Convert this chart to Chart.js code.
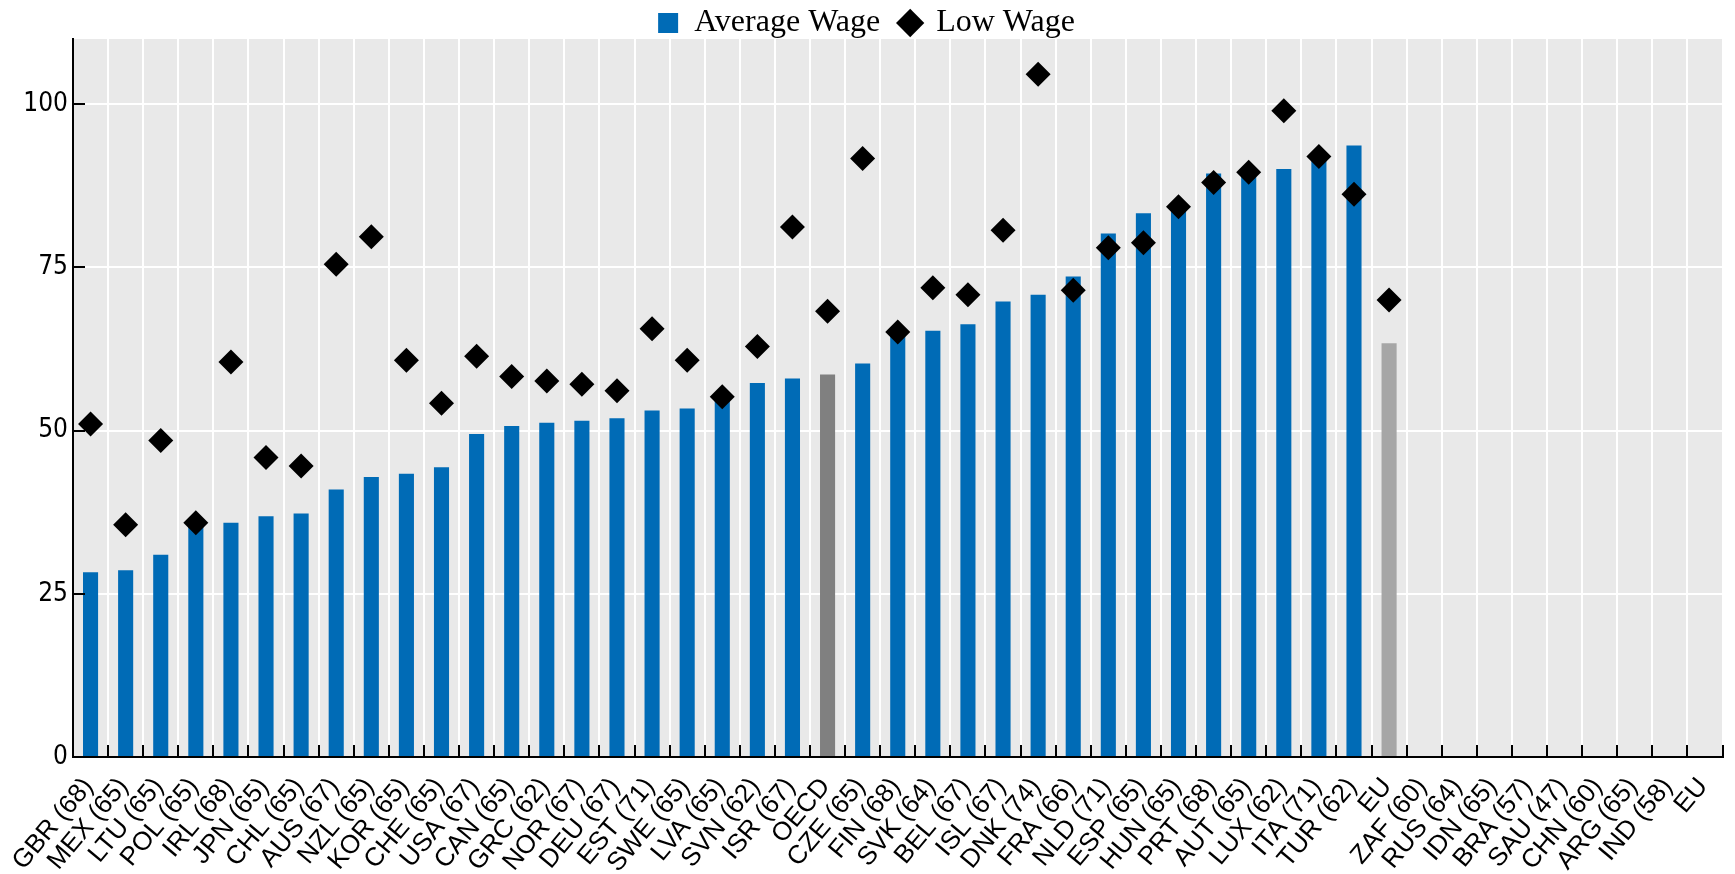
<!DOCTYPE html>
<html>
<head>
<meta charset="utf-8">
<script src="https://cdn.jsdelivr.net/npm/chart.js@4"></script>
<style>
html,body{margin:0;padding:0;background:#fff;}
#wrap{width:1735px;height:874px;}
</style>
</head>
<body>
<div id="wrap"><canvas id="c" width="1735" height="874"></canvas></div>
<script>
const categories = ["GBR (68)","MEX (65)","LTU (65)","POL (65)","IRL (68)","JPN (65)","CHL (65)","AUS (67)","NZL (65)","KOR (65)","CHE (65)","USA (67)","CAN (65)","GRC (62)","NOR (67)","DEU (67)","EST (71)","SWE (65)","LVA (65)","SVN (62)","ISR (67)","OECD","CZE (65)","FIN (68)","SVK (64)","BEL (67)","ISL (67)","DNK (74)","FRA (66)","NLD (71)","ESP (65)","HUN (65)","PRT (68)","AUT (65)","LUX (62)","ITA (71)","TUR (62)","EU","ZAF (60)","RUS (64)","IDN (65)","BRA (57)","SAU (47)","CHN (60)","ARG (65)","IND (58)","EU"];

const averageWage = [28.3,28.6,31.0,35.5,35.9,36.9,37.3,41.0,42.9,43.4,44.4,49.5,50.7,51.2,51.5,51.9,53.1,53.4,55.0,57.3,58.0,58.6,60.3,64.8,65.3,66.3,69.8,70.8,73.6,80.2,83.3,84.0,89.4,89.8,90.1,91.5,93.7,63.4,null,null,null,null,null,null,null,null,null];

const lowWage = [51.0,35.6,48.5,35.9,60.5,45.9,44.6,75.5,79.7,60.8,54.2,61.4,58.3,57.6,57.1,56.1,65.6,60.8,55.2,62.9,81.2,68.3,91.7,65.1,71.9,70.8,80.7,104.6,71.5,78.0,78.8,84.3,88.0,89.6,99.0,92.0,86.2,70.0,null,null,null,null,null,null,null,null,null];

const yTicks = [0,25,50,75,100];

const BLUE = "#006BB6";
const OECD_GREY = "#808080";
const EU_GREY = "#A6A6A6";
const barColors = categories.map((c,i) => c === "OECD" ? OECD_GREY : (c === "EU" && i < 40 ? EU_GREY : BLUE));

const bgPlugin = {
  id: 'bg',
  beforeLayout(chart){
    const lg = chart.legend;
    if (lg && !lg._trimmed) {
      const f = lg.fit;
      lg.fit = function(){ f.call(this); this.height = 52; };
      lg._trimmed = true;
    }
  },
  beforeDraw(chart){
    const {ctx, chartArea:a} = chart;
    ctx.save();
    ctx.fillStyle = '#E9E9E9';
    ctx.fillRect(a.left, a.top, a.right - a.left, a.bottom - a.top);
    ctx.restore();
  },
  afterDraw(chart){
    const {ctx, chartArea:a} = chart;
    const xs = chart.scales.x, ys = chart.scales.y;
    ctx.save();
    ctx.strokeStyle = '#000';
    ctx.lineWidth = 2;
    ctx.beginPath();
    yTicks.forEach(v => {
      const y = Math.round(ys.getPixelForValue(v));
      ctx.moveTo(a.left, y); ctx.lineTo(a.left + 12, y);
    });
    const n = categories.length;
    for (let i = 1; i <= n; i++) {
      const x = Math.round(i < n ? (xs.getPixelForValue(i-1) + xs.getPixelForValue(i)) / 2 : a.right);
      ctx.moveTo(x, a.bottom); ctx.lineTo(x, a.bottom - 12);
    }
    ctx.stroke();
    ctx.restore();
  }
};

new Chart(document.getElementById('c'), {
  type: 'bar',
  data: {
    labels: categories,
    datasets: [
      {
        label: 'Average Wage',
        data: averageWage,
        backgroundColor: barColors,
        borderWidth: 0,
        barPercentage: 0.43,
        categoryPercentage: 1.0,
        pointStyle: 'rect',
        order: 2
      },
      {
        type: 'line',
        label: 'Low Wage',
        data: lowWage,
        showLine: false,
        pointStyle: 'rectRot',
        pointRadius: 12.5,
        pointBackgroundColor: '#000',
        pointBorderColor: '#000',
        pointBorderWidth: 0,
        backgroundColor: '#000',
        borderColor: '#000',
        order: 1
      }
    ]
  },
  options: {
    responsive: false,
    animation: false,
    devicePixelRatio: 1,
    layout: { padding: { left: 10, right: 12, top: -13, bottom: 0 } },
    plugins: {
      tooltip: { enabled: false },
      legend: {
        position: 'top',
        labels: {
          usePointStyle: true,
          boxWidth: 20,
          boxHeight: 20,
          padding: 20,
          color: '#000',
          sort: (a, b) => a.datasetIndex - b.datasetIndex,
          font: { family: '"Liberation Serif", "DejaVu Serif", serif', size: 32 }
        }
      }
    },
    scales: {
      x: {
        offset: true,
        grid: { offset: true, color: '#FFFFFF', lineWidth: 2, drawTicks: false },
        border: { display: true, color: '#000', width: 2, z: 1 },
        afterFit: s => { s.height = 117; s.paddingLeft = 0; s.paddingRight = 0; },
        ticks: {
          autoSkip: false,
          maxRotation: 50,
          minRotation: 50,
          padding: 15,
          labelOffset: -2,
          color: '#000',
          font: { family: '"Liberation Sans", Arial, sans-serif', size: 26 }
        }
      },
      y: {
        min: 0,
        max: 110,
        afterFit: s => { s.width = 63; },
        afterBuildTicks: s => { s.ticks = yTicks.map(v => ({ value: v })); },
        grid: { color: '#FFFFFF', lineWidth: 2, drawTicks: false },
        border: { display: true, color: '#000', width: 2, z: 1 },
        ticks: {
          padding: 5,
          color: '#000',
          font: { family: '"Liberation Sans Narrow", "DejaVu Sans Condensed", sans-serif', size: 26 }
        }
      }
    }
  },
  plugins: [bgPlugin]
});
</script>
</body>
</html>
